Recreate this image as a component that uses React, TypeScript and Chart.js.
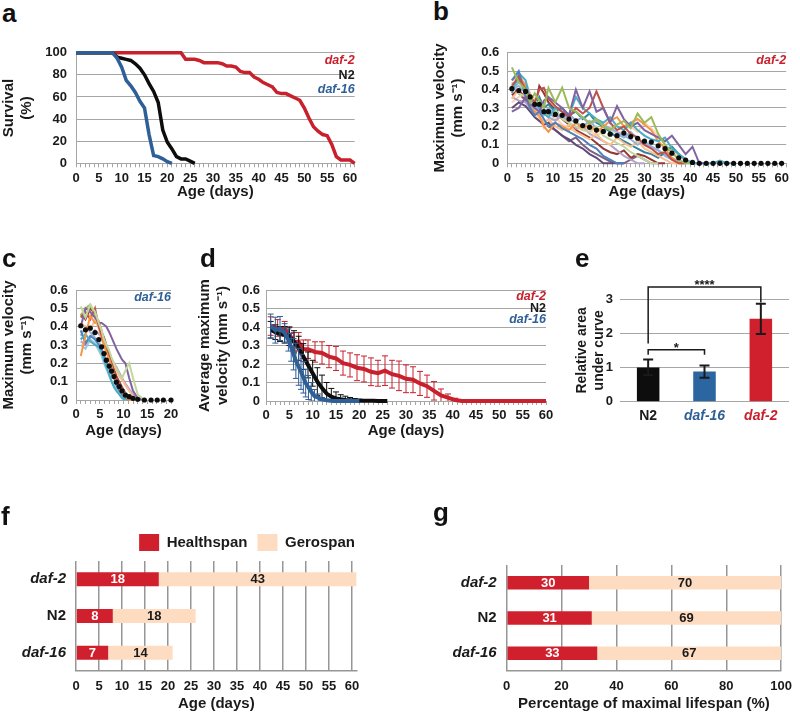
import React, { useEffect, useRef } from 'react';
import { Chart, registerables } from 'chart.js';

Chart.register(...registerables);

const FONT = "'Liberation Sans', Arial, Helvetica, sans-serif";
Chart.defaults.font.family = FONT;
Chart.defaults.color = '#1a1a1a';

const TXT = '#1a1a1a';
const GRID = '#a6a6a6';
const RED = '#c8202d';
const BLUE = '#2f5f97';
const BLACK = '#0d0d0d';
const BAR_RED = '#d0202d';
const BAR_BLUE = '#2c66a0';
const PEACH = '#fddcc2';

// ---------------- panel a: survival (%) ----------------
const A_DAYS = [0,1,2,3,4,5,6,7,8,9,10,11,12,13,14,15,16,17,18,19,20,21,22,23,24,25,26,27,28,29,30,31,32,33,34,35,36,37,38,39,40,41,42,43,44,45,46,47,48,49,50,51,52,53,54,55,56,57,58,59,60,61];
const A_DAF16 = [100,100,100,100,100,100,100,100,100,95,87,75,70,64,56,50,26,7,6,4,1.5,0];
const A_N2 = [100,100,100,100,100,100,100,100,100,96,95,94,93,90,86,80,72,65,55,30,19,13,6,4,4,2,0];
const A_DAF2 = [100,100,100,100,100,100,100,100,100,100,
  100,100,100,100,100,100,100,100,100,100,
  100,100,100,100,94,94,94,93,91,91,
  91,91,90,88,88,87,83,82,82,78,
  76,73,71,69,64,63,63,61,59,57,
  50,41,33,29,26,25,17,6,3,3,
  3,0];

// ---------------- panel b: daf-2 individual max velocity ----------------
const B_DAYS = [1,2.5,4,5,6,7,8,9,10.5,12,13.5,15,16.5,18,19.5,21,22.5,24,25.5,27,28.5,30,31.5,33,34.5,36,37.5,39,40.5,42,43.5,45,46.5,48,49.5,51,52.5,54,55.5,57,58.5,60];
const B_MEAN = [0.405,0.395,0.39,0.36,0.32,0.32,0.28,0.28,0.265,0.26,0.24,0.23,0.205,0.195,0.18,0.173,0.158,0.15,0.164,0.145,0.136,0.12,0.115,0.095,0.08,0.055,0.03,0.018,0.005,0,0,0,0,0,0,0,0,0,0,0,0,0];
const B_WORMS = [
  [0.52,0.44,0.40,0.33,0.38,0.34,0.30,0.41,0.33,0.41,0.30,0.28,0.25,0.22,0.24,0.20,0.18,0.21,0.23,0.19,0.27,0.22,0.25,0.16,0.10,0.06,0.02,0,0],
  [0.28,0.30,0.36,0.32,0.30,0.28,0.34,0.36,0.33,0.30,0.26,0.40,0.30,0.39,0.28,0.30,0.22,0.31,0.24,0.20,0.22,0.18,0.16,0.14,0.12,0.15,0.10,0.05,0.09,0,0],
  [0.42,0.47,0.40,0.36,0.33,0.40,0.41,0.35,0.31,0.28,0.25,0.30,0.27,0.30,0.39,0.30,0.22,0.18,0.20,0.16,0.14,0.10,0.08,0.05,0.06,0.02,0,0],
  [0.45,0.50,0.36,0.30,0.26,0.28,0.24,0.20,0.22,0.19,0.17,0.15,0.13,0.10,0.08,0.04,0.02,0,0],
  [0.38,0.49,0.45,0.35,0.33,0.30,0.27,0.25,0.30,0.28,0.26,0.36,0.30,0.27,0.24,0.22,0.25,0.20,0.18,0.22,0.18,0.15,0.13,0.12,0.14,0.08,0.05,0.02,0,0,0,0,0.015,0,0],
  [0.45,0.48,0.42,0.30,0.28,0.26,0.20,0.17,0.22,0.20,0.18,0.22,0.19,0.21,0.17,0.20,0.23,0.25,0.20,0.22,0.24,0.21,0.18,0.12,0.08,0.03,0,0],
  [0.40,0.42,0.38,0.34,0.31,0.29,0.27,0.30,0.27,0.25,0.27,0.23,0.25,0.21,0.23,0.21,0.19,0.17,0.15,0.13,0.10,0.12,0.09,0.07,0.05,0.03,0.01,0,0],
  [0.35,0.40,0.44,0.38,0.30,0.25,0.22,0.24,0.20,0.18,0.21,0.17,0.15,0.13,0.16,0.12,0.10,0.14,0.11,0.09,0.12,0.08,0.06,0.04,0.02,0,0],
  [0.30,0.33,0.31,0.28,0.25,0.23,0.21,0.22,0.18,0.15,0.13,0.10,0.08,0.05,0.03,0,0,0,0],
  [0.44,0.38,0.36,0.32,0.35,0.30,0.28,0.26,0.29,0.24,0.22,0.20,0.18,0.17,0.20,0.15,0.13,0.11,0.09,0.06,0.04,0.02,0,0],
  [0.36,0.34,0.33,0.30,0.29,0.31,0.28,0.25,0.23,0.26,0.22,0.19,0.20,0.16,0.14,0.12,0.10,0.07,0.04,0.02,0,0],
  [0.41,0.46,0.39,0.35,0.32,0.36,0.30,0.32,0.28,0.30,0.26,0.28,0.24,0.27,0.22,0.20,0.17,0.14,0.12,0.10,0.08,0.06,0.05,0.03,0.06,0.09,0.05,0.02,0,0],
  [0.37,0.40,0.35,0.33,0.30,0.42,0.38,0.33,0.29,0.24,0.21,0.18,0.16,0.14,0.11,0.08,0.06,0.05,0.07,0.03,0.05,0.04,0.02,0,0],
  [0.33,0.36,0.38,0.34,0.28,0.24,0.19,0.22,0.25,0.21,0.19,0.17,0.21,0.18,0.15,0.17,0.20,0.16,0.18,0.20,0.17,0.22,0.19,0.15,0.10,0.07,0.04,0.01,0,0],
  [0.42,0.38,0.34,0.30,0.27,0.25,0.22,0.20,0.18,0.15,0.12,0.14,0.10,0.07,0.05,0.03,0.01,0,0,0.02,0.04,0.02,0,0],
  [0.39,0.44,0.41,0.37,0.32,0.29,0.26,0.28,0.24,0.27,0.24,0.22,0.20,0.23,0.19,0.17,0.19,0.16,0.14,0.17,0.13,0.11,0.09,0.07,0.04,0.02,0,0],
];
const B_COLORS = ['#9BBB59','#8064A2','#C0504D','#4F81BD','#4BACC6','#F79646','#95B3D7','#FAC090','#604A7B','#C3D69B','#B3A2C7','#31859C','#953735','#FCD5B5','#7F6084','#8DB4E2'];

// ---------------- panel c: daf-16 individual max velocity ----------------
const C_DAYS = [1,2,3,4,4.8,5.4,5.9,6.4,7,7.5,8,8.5,9.1,9.7,10.4,11.2,12,13,14.4,15.8,17.1,18.4,20];
const C_MEAN = [0.405,0.383,0.392,0.368,0.33,0.29,0.253,0.217,0.185,0.158,0.128,0.097,0.073,0.05,0.027,0.018,0.009,0.004,0,0,0,0,0];
const C_WORMS = [
  [0.51,0.45,0.52,0.48,0.42,0.38,0.33,0.30,0.27,0.23,0.20,0.17,0.14,0.12,0.16,0.20,0.12,0.03,0],
  [0.40,0.50,0.48,0.45,0.42,0.42,0.41,0.40,0.37,0.34,0.31,0.28,0.25,0.22,0.20,0.12,0.05,0.01,0],
  [0.24,0.35,0.46,0.42,0.43,0.38,0.30,0.26,0.22,0.18,0.13,0.10,0.07,0.04,0.02,0,0],
  [0.45,0.48,0.44,0.50,0.40,0.35,0.31,0.28,0.24,0.20,0.16,0.12,0.09,0.06,0.03,0.01,0],
  [0.33,0.36,0.32,0.30,0.29,0.26,0.22,0.18,0.14,0.10,0.07,0.05,0.03,0.01,0],
  [0.38,0.31,0.35,0.33,0.30,0.27,0.24,0.20,0.17,0.14,0.12,0.08,0.05,0.03,0.01,0],
  [0.42,0.40,0.38,0.44,0.39,0.33,0.29,0.26,0.24,0.22,0.19,0.16,0.13,0.11,0.08,0.05,0.02,0],
  [0.35,0.40,0.37,0.34,0.32,0.28,0.25,0.21,0.18,0.15,0.13,0.10,0.08,0.06,0.04,0.02,0],
  [0.46,0.50,0.52,0.46,0.41,0.36,0.32,0.28,0.24,0.20,0.15,0.11,0.08,0.05,0.03,0.01,0],
  [0.32,0.30,0.34,0.38,0.36,0.34,0.31,0.27,0.25,0.22,0.20,0.18,0.15,0.12,0.09,0.06,0.03,0],
  [0.47,0.44,0.50,0.47,0.41,0.37,0.34,0.30,0.25,0.21,0.17,0.13,0.10,0.07,0.04,0],
  [0.30,0.28,0.33,0.31,0.27,0.24,0.20,0.17,0.13,0.10,0.08,0.06,0.04,0.02,0],
];
const C_COLORS = ['#C3D69B','#8064A2','#F79646','#C0504D','#4BACC6','#4F81BD','#FAC090','#95B3D7','#9BBB59','#B3A2C7','#953735','#92CDDC'];

// ---------------- panel d: average max velocity ± SD ----------------
const D_DAF2_SD = [0.05,0.045,0.04,0.04,0.05,0.05,0.05,0.05,0.055,0.06,0.06,0.065,0.065,0.065,0.07,0.07,0.075,0.07,0.08,0.075,0.08,0.075,0.07,0.065,0.06,0.05,0.035,0.02,0.01,0.005];
const D_N2_DAYS = [1,2,3,4,5,6,7,8,9,10,11,12,13,14,15,16,17,18,19,20,21,22,23,24,25,26];
const D_N2_MEAN = [0.385,0.372,0.362,0.358,0.35,0.32,0.285,0.24,0.195,0.15,0.105,0.07,0.04,0.023,0.014,0.009,0.006,0.004,0.003,0.002,0.002,0.001,0.001,0,0,0];
const D_N2_SD = [0.045,0.04,0.04,0.045,0.05,0.06,0.065,0.07,0.07,0.07,0.075,0.07,0.06,0.045,0.035,0.025,0.02,0.015,0.01,0.008,0.006,0.004,0.003,0,0,0];
const D_DAF16_SD = [0.065,0.07,0.065,0.05,0.06,0.075,0.085,0.095,0.1,0.095,0.085,0.075,0.065,0.05,0.035,0.02,0.01,0.005,0,0,0,0,0];

// ---------------- panel e: relative area under curve ----------------
const E_CATS = ['N2', 'daf-16', 'daf-2'];
const E_VALUES = [1.0, 0.88, 2.42];
const E_ERR = [0.23, 0.18, 0.44];
const E_COLORS = [BLACK, BAR_BLUE, BAR_RED];
const E_LABEL_COLORS = [TXT, BLUE, RED];
const E_BRACKETS = [
  { from: 0, to: 2, y: 3.35, leftEnd: 1.7, rightEnd: 2.9, label: '****' },
  { from: 0, to: 1, y: 1.52, leftEnd: 1.37, rightEnd: 1.37, label: '*' },
];

// ---------------- panels f, g: healthspan / gerospan ----------------
const F_CATS = ['daf-2', 'N2', 'daf-16'];
const F_HEALTH = [18, 8, 7];
const F_GERO = [43, 18, 14];
const G_HEALTH = [30, 31, 33];
const G_GERO = [70, 69, 67];

// ---------------- helpers ----------------
const pts = (xs: number[], ys: number[]) => ys.map((y, i) => ({ x: xs[i], y }));
const tickFont = { family: FONT, size: 13, weight: 'bold' as const };
const titleFont = { family: FONT, size: 15, weight: 'bold' as const };
const labelFont = `italic bold 12.5px ${FONT}`;
const labelFontUp = `bold 12.5px ${FONT}`;

const textLabelsPlugin = {
  id: 'textLabels',
  afterDatasetsDraw(chart: any, _a: any, opts: any) {
    const items = (opts && opts.items) || [];
    const { ctx } = chart;
    const xs = chart.scales.x;
    const ys = chart.scales.y;
    for (const it of items) {
      ctx.save();
      ctx.font = it.font;
      ctx.fillStyle = it.color;
      ctx.textAlign = it.align || 'right';
      ctx.textBaseline = 'middle';
      ctx.fillText(it.text, xs.getPixelForValue(it.x), ys.getPixelForValue(it.y));
      ctx.restore();
    }
  },
};

function drawErrors(chart: any, index: number, opts: any) {
  const ds = chart.data.datasets[index];
  const errs = ds.errors;
  if (!errs) return;
  const meta = chart.getDatasetMeta(index);
  const ys = chart.scales[meta.yAxisID];
  const { ctx, chartArea } = chart;
  const cap = opts.cap || 3;
  ctx.save();
  ctx.beginPath();
  ctx.rect(chartArea.left - 10, chartArea.top - 30, chartArea.right - chartArea.left + 20, chartArea.bottom - chartArea.top + 30);
  ctx.clip();
  ctx.strokeStyle = opts.color || ds.borderColor;
  ctx.lineWidth = opts.lineWidth || 1;
  meta.data.forEach((el: any, i: number) => {
    const e = errs[i];
    if (!e) return;
    const raw = ds.data[i];
    const v = typeof raw === 'object' ? raw.y : raw;
    const x = el.x;
    const yt = ys.getPixelForValue(v + e);
    const yb = ys.getPixelForValue(v - e);
    ctx.beginPath();
    ctx.moveTo(x, yt); ctx.lineTo(x, yb);
    ctx.moveTo(x - cap, yt); ctx.lineTo(x + cap, yt);
    ctx.moveTo(x - cap, yb); ctx.lineTo(x + cap, yb);
    ctx.stroke();
  });
  ctx.restore();
}

const errorBarsPlugin = {
  id: 'errorBars',
  beforeDatasetDraw(chart: any, args: any, opts: any) {
    if (opts && !opts.after) drawErrors(chart, args.index, opts);
  },
  afterDatasetDraw(chart: any, args: any, opts: any) {
    if (opts && opts.after) drawErrors(chart, args.index, opts);
  },
};

const bracketsPlugin = {
  id: 'brackets',
  afterDatasetsDraw(chart: any, _a: any, opts: any) {
    const items = (opts && opts.items) || [];
    const { ctx } = chart;
    const xs = chart.scales.x;
    const ys = chart.scales.y;
    for (const b of items) {
      const x1 = xs.getPixelForValue(b.from);
      const x2 = xs.getPixelForValue(b.to);
      const y = ys.getPixelForValue(b.y);
      const yl = ys.getPixelForValue(b.leftEnd);
      const yr = ys.getPixelForValue(b.rightEnd);
      ctx.save();
      ctx.strokeStyle = TXT;
      ctx.lineWidth = 1.5;
      ctx.beginPath();
      ctx.moveTo(x1, yl); ctx.lineTo(x1, y); ctx.lineTo(x2, y); ctx.lineTo(x2, yr);
      ctx.stroke();
      ctx.font = `bold 13px ${FONT}`;
      ctx.fillStyle = TXT;
      ctx.textAlign = 'center';
      ctx.textBaseline = 'alphabetic';
      ctx.fillText(b.label, (x1 + x2) / 2, y + 2);
      ctx.restore();
    }
  },
};

const barValuesPlugin = {
  id: 'barValues',
  afterDatasetsDraw(chart: any, _a: any, opts: any) {
    if (!opts || !opts.show) return;
    const { ctx } = chart;
    chart.data.datasets.forEach((ds: any, di: number) => {
      const meta = chart.getDatasetMeta(di);
      meta.data.forEach((el: any, i: number) => {
        const p = el.getProps(['x', 'y', 'base'], true);
        ctx.save();
        ctx.font = `bold 13px ${FONT}`;
        ctx.fillStyle = ds.valueColor;
        ctx.textAlign = 'center';
        ctx.textBaseline = 'middle';
        ctx.fillText(String(ds.data[i]), (p.x + p.base) / 2, p.y + 0.5);
        ctx.restore();
      });
    });
  },
};

function dayAxis(max: number, height: number, titleBottom: number) {
  return {
    type: 'linear',
    min: 0,
    max,
    ticks: {
      stepSize: 1,
      includeBounds: false,
      autoSkip: false,
      maxRotation: 0,
      padding: 3,
      font: tickFont,
      color: TXT,
      callback: (v: number) => (v % 5 === 0 ? String(v) : ''),
    },
    grid: { drawOnChartArea: false, drawTicks: true, tickLength: 4, color: GRID, lineWidth: 1 },
    border: { display: true, color: GRID, width: 1 },
    title: { display: true, text: 'Age (days)', font: titleFont, color: TXT, padding: { top: 0, bottom: titleBottom } },
    afterFit: (s: any) => { s.height = height; },
  };
}

function valueAxis(o: any) {
  return {
    type: 'linear',
    min: 0,
    max: o.max,
    ticks: {
      stepSize: o.step,
      autoSkip: false,
      padding: o.labelPad,
      font: tickFont,
      color: TXT,
      callback: o.fmt,
    },
    grid: { color: GRID, lineWidth: 1, drawTicks: false },
    border: { display: o.border !== false, color: GRID, width: 1 },
    title: { display: true, text: o.title, font: o.titleFont || titleFont, color: TXT, padding: { top: o.titlePad, bottom: 0 } },
    afterFit: (s: any) => { s.width = o.width; },
  };
}

function baseOptions(o: any) {
  return {
    responsive: false,
    animation: false,
    devicePixelRatio: 1,
    events: [],
    layout: { padding: { top: o.padTop, right: o.padRight, left: 0, bottom: 0 } },
    plugins: {
      legend: { display: false },
      tooltip: { enabled: false },
      textLabels: { items: o.labels || [] },
      ...(o.plugins || {}),
    },
    scales: { x: o.x, y: o.y },
  };
}

const fmtDec = (v: number) => (v === 0 ? '0' : v.toFixed(1));
const fmtInt = (v: number) => String(v);

const lineDs = (label: string, data: any, color: string, width: number) => ({
  label, data, borderColor: color, backgroundColor: color, borderWidth: width,
  pointRadius: 0, tension: 0, fill: false, clip: 5,
});

// ---------------- chart configs ----------------
const buildA = () => ({
  type: 'line',
  data: {
    datasets: [
      lineDs('daf-16', pts(A_DAYS, A_DAF16), BLUE, 3.5),
      lineDs('N2', pts(A_DAYS, A_N2), BLACK, 3.5),
      lineDs('daf-2', pts(A_DAYS, A_DAF2), RED, 3.5),
    ],
  },
  options: baseOptions({
    padTop: 22.7, padRight: 15.4,
    x: dayAxis(61, 46.7, 9),
    y: valueAxis({ max: 100, step: 20, labelPad: 9, fmt: fmtInt, title: ['Survival', '(%)'], titlePad: 0, width: 76 }),
    labels: [
      { text: 'daf-2', x: 61, y: 92.5, color: RED, font: labelFont },
      { text: 'N2', x: 61, y: 79, color: TXT, font: labelFontUp },
      { text: 'daf-16', x: 61, y: 67, color: BLUE, font: labelFont },
    ],
  }),
  plugins: [textLabelsPlugin],
});

const buildB = () => ({
  type: 'line',
  data: {
    datasets: [
      { label: 'mean', data: pts(B_DAYS, B_MEAN), showLine: false, pointRadius: 2.6, pointBackgroundColor: BLACK, pointBorderWidth: 0, clip: 5 },
      ...B_WORMS.map((w, i) => lineDs('worm ' + (i + 1), pts(B_DAYS, w), B_COLORS[i % B_COLORS.length], 2)),
    ],
  },
  options: baseOptions({
    padTop: 22.7, padRight: 13.8,
    x: dayAxis(61, 46.7, 9),
    y: valueAxis({ max: 0.6, step: 0.1, labelPad: 8, fmt: fmtDec, title: ['Maximum velocity', '(mm s\u207B\u00B9)'], titlePad: 11, width: 87.3 }),
    labels: [{ text: 'daf-2', x: 61, y: 0.555, color: RED, font: labelFont }],
  }),
  plugins: [textLabelsPlugin],
});

const buildC = () => ({
  type: 'line',
  data: {
    datasets: [
      { label: 'mean', data: pts(C_DAYS, C_MEAN), showLine: false, pointRadius: 2.6, pointBackgroundColor: BLACK, pointBorderWidth: 0, clip: 5 },
      ...C_WORMS.map((w, i) => lineDs('worm ' + (i + 1), pts(C_DAYS, w), C_COLORS[i % C_COLORS.length], 2)),
    ],
  },
  options: baseOptions({
    padTop: 25, padRight: 14,
    x: dayAxis(20, 45, 5),
    y: valueAxis({ max: 0.6, step: 0.1, labelPad: 8, fmt: fmtDec, title: ['Maximum velocity', '(mm s\u207B\u00B9)'], titlePad: 0, width: 76 }),
    labels: [{ text: 'daf-16', x: 20, y: 0.558, color: BLUE, font: labelFont }],
  }),
  plugins: [textLabelsPlugin],
});

const buildD = () => ({
  type: 'line',
  data: {
    datasets: [
      { ...lineDs('daf-16', pts(C_DAYS, C_MEAN), BLUE, 4), errors: D_DAF16_SD },
      { ...lineDs('N2', pts(D_N2_DAYS, D_N2_MEAN), BLACK, 4), errors: D_N2_SD },
      { ...lineDs('daf-2', pts(B_DAYS, B_MEAN), RED, 4), errors: D_DAF2_SD },
    ],
  },
  options: baseOptions({
    padTop: 25, padRight: 14,
    x: dayAxis(60, 44, 5),
    y: valueAxis({ max: 0.6, step: 0.1, labelPad: 6, fmt: fmtDec, title: ['Average maximum', 'velocity (mm s\u207B\u00B9)'], titlePad: 11, width: 81 }),
    labels: [
      { text: 'daf-2', x: 60, y: 0.564, color: RED, font: labelFont },
      { text: 'N2', x: 60, y: 0.501, color: TXT, font: labelFontUp },
      { text: 'daf-16', x: 60, y: 0.438, color: BLUE, font: labelFont },
    ],
    plugins: { errorBars: { after: false, lineWidth: 1, cap: 3 } },
  }),
  plugins: [textLabelsPlugin, errorBarsPlugin],
});

const buildE = () => ({
  type: 'bar',
  data: {
    labels: E_CATS,
    datasets: [{ label: 'AUC', data: E_VALUES, errors: E_ERR, backgroundColor: E_COLORS, borderWidth: 0, barPercentage: 0.4, categoryPercentage: 1 }],
  },
  options: {
    ...baseOptions({
      padTop: 34, padRight: 11,
      x: {
        type: 'category',
        grid: { display: false, drawTicks: false },
        border: { display: false },
        ticks: {
          padding: 6,
          color: (c: any) => E_LABEL_COLORS[c.index],
          font: (c: any) => ({ family: FONT, size: 14, weight: 'bold', style: E_CATS[c.index].startsWith('daf') ? 'italic' : 'normal' }),
        },
        afterFit: (s: any) => { s.height = 28.3; },
      },
      y: valueAxis({ max: 3, step: 1, labelPad: 7, fmt: fmtInt, title: ['Relative area', 'under curve'], titlePad: 14, width: 60, border: false, titleFont: { family: FONT, size: 14, weight: 'bold' } }),
      plugins: {
        errorBars: { after: true, lineWidth: 2, cap: 5, color: TXT },
        brackets: { items: E_BRACKETS },
      },
    }),
  },
  plugins: [errorBarsPlugin, bracketsPlugin],
});

function spanChart(health: number[], gero: number[], o: any) {
  return {
    type: 'bar',
    data: {
      labels: F_CATS,
      datasets: [
        { label: 'Healthspan', data: health, backgroundColor: BAR_RED, borderWidth: 0, valueColor: '#ffffff' },
        { label: 'Gerospan', data: gero, backgroundColor: PEACH, borderWidth: 0, valueColor: TXT },
      ],
    },
    options: {
      responsive: false,
      animation: false,
      devicePixelRatio: 1,
      events: [],
      indexAxis: 'y',
      datasets: { bar: { barPercentage: 0.38, categoryPercentage: 1 } },
      layout: { padding: { top: o.padTop, right: o.padRight, left: 0, bottom: 0 } },
      plugins: {
        tooltip: { enabled: false },
        legend: o.legend
          ? {
              display: true, position: 'top', align: 'end', maxHeight: 41,
              labels: { boxWidth: 20, boxHeight: 17, padding: 10, color: TXT, font: { family: FONT, size: 15, weight: 'bold' } },
            }
          : { display: false },
        barValues: { show: true },
      },
      scales: {
        x: {
          type: 'linear', stacked: true, min: 0, max: o.max,
          ticks: { stepSize: o.step, includeBounds: false, padding: 8, font: tickFont, color: TXT, maxRotation: 0 },
          grid: { color: '#969696', lineWidth: 1.5, drawTicks: false },
          border: { display: true, color: '#969696', width: 1.5 },
          title: { display: true, text: o.title, font: titleFont, color: TXT, padding: { top: 0, bottom: 0 } },
          afterFit: (s: any) => { s.height = 42; },
        },
        y: {
          type: 'category', stacked: true,
          grid: { display: false, drawTicks: false },
          border: { display: false },
          ticks: {
            padding: 10, color: TXT,
            font: (c: any) => ({ family: FONT, size: 15, weight: 'bold', style: F_CATS[c.index].startsWith('daf') ? 'italic' : 'normal' }),
          },
          afterFit: (s: any) => { s.width = o.yWidth; },
        },
        ...(o.rightPad
          ? {
              yR: {
                type: 'linear', position: 'right', display: true,
                grid: { display: false, drawTicks: false }, border: { display: false }, ticks: { display: false },
                afterFit: (s: any) => { s.width = o.rightPad; },
              },
            }
          : {}),
      },
    },
    plugins: [barValuesPlugin],
  };
}

const buildF = () => spanChart(F_HEALTH, F_GERO, { legend: true, padTop: 0, padRight: 10, rightPad: 8.4, max: 61, step: 5, yWidth: 76, title: 'Age (days)' });
const buildG = () => spanChart(G_HEALTH, G_GERO, { legend: false, padTop: 41, padRight: 10.7, max: 100, step: 20, yWidth: 106.7, title: 'Percentage of maximal lifespan (%)' });

// ---------------- components ----------------
function ChartPanel({ x, y, w, h, build }: any) {
  const ref = useRef<HTMLCanvasElement | null>(null);
  useEffect(() => {
    if (!ref.current) return;
    const chart = new Chart(ref.current, build());
    return () => chart.destroy();
  }, []);
  return (
    <canvas
      ref={ref}
      width={w}
      height={h}
      style={{ position: 'absolute', left: x, top: y, width: w, height: h }}
    />
  );
}

const PANEL_LETTERS = [
  { t: 'a', x: 2, y: 0 },
  { t: 'b', x: 433, y: -2 },
  { t: 'c', x: 2, y: 245 },
  { t: 'd', x: 200, y: 245 },
  { t: 'e', x: 575, y: 245 },
  { t: 'f', x: 1, y: 503 },
  { t: 'g', x: 433, y: 499 },
];

export default function App() {
  return (
    <div style={{ position: 'absolute', left: 0, top: 0, width: 800, height: 713, background: '#ffffff', overflow: 'hidden' }}>
      <ChartPanel x={0} y={30} w={370} h={180} build={buildA} />
      <ChartPanel x={420} y={30} w={380} h={180} build={buildB} />
      <ChartPanel x={0} y={265} w={185} h={180} build={buildC} />
      <ChartPanel x={185} y={265} w={375} h={180} build={buildD} />
      <ChartPanel x={560} y={265} w={240} h={165} build={buildE} />
      <ChartPanel x={0} y={524} w={375} h={189} build={buildF} />
      <ChartPanel x={400} y={524} w={400} h={189} build={buildG} />
      {PANEL_LETTERS.map((p) => (
        <div
          key={p.t}
          style={{ position: 'absolute', left: p.x, top: p.y, font: `bold 26px ${FONT}`, lineHeight: '26px', color: '#111' }}
        >
          {p.t}
        </div>
      ))}
    </div>
  );
}
